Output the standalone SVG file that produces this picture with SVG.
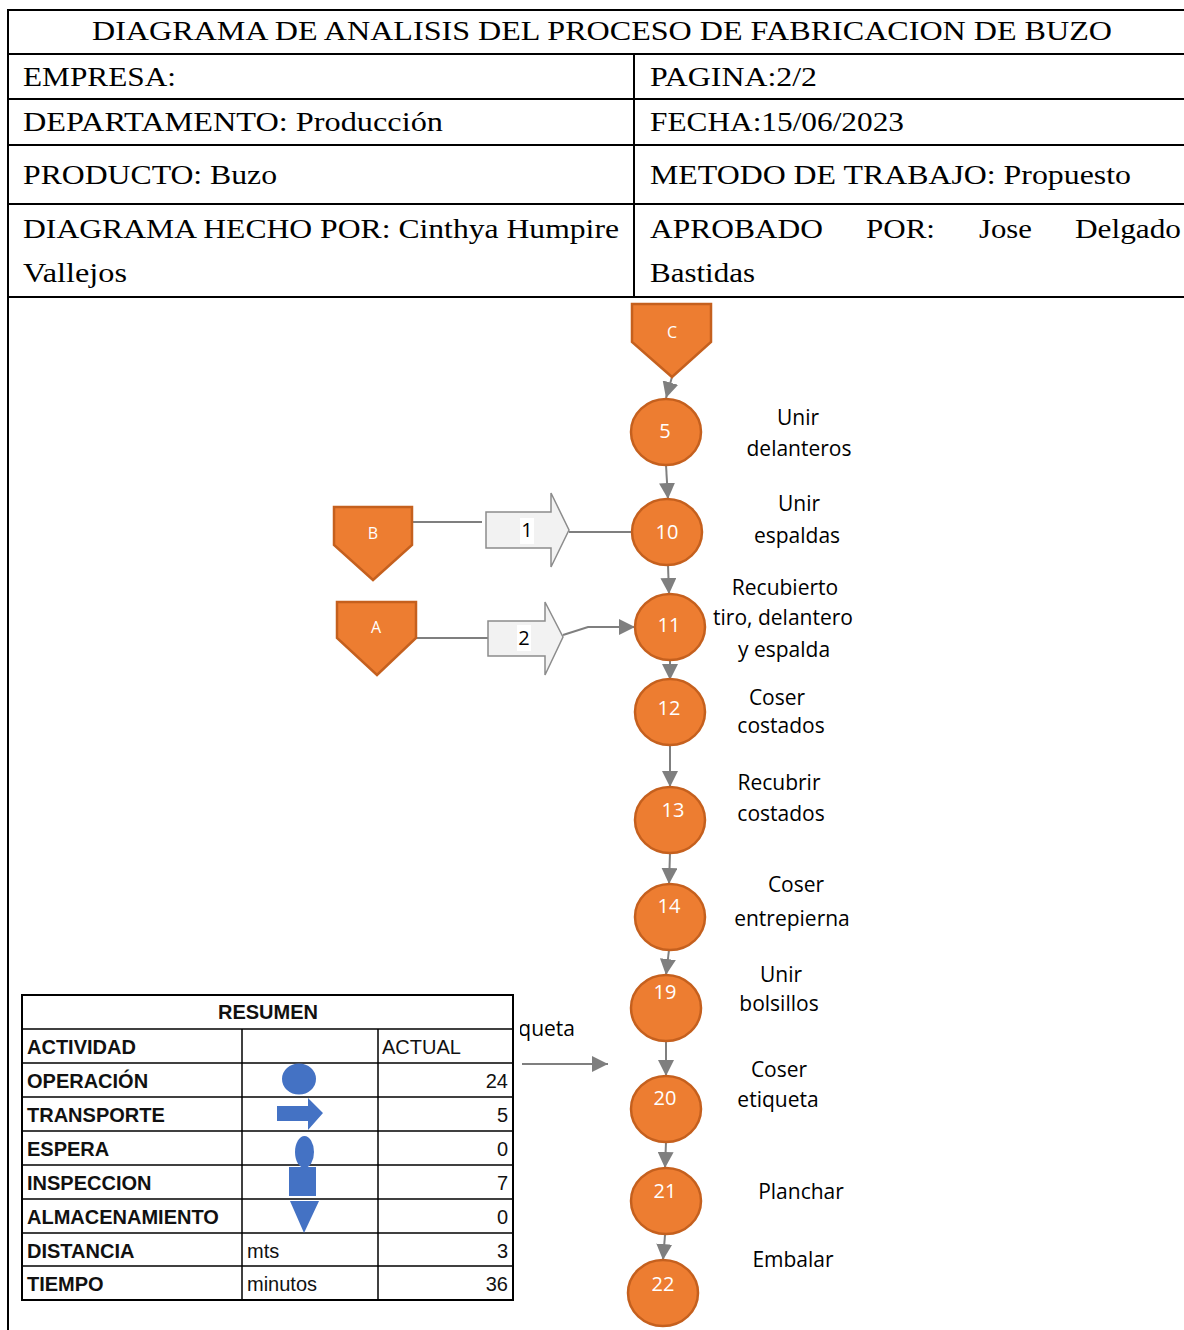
<svg xmlns="http://www.w3.org/2000/svg" width="1184" height="1330" viewBox="0 0 1184 1330">
  <style>
    .hdr { font-family: "Liberation Serif", "Times New Roman", serif; font-size: 27px; fill: #000; }
    .frame { stroke: #000; stroke-width: 2; fill: none; }
    .op { fill: #ED7D31; stroke: #C5601E; stroke-width: 2.5; }
    .num { font-family: "Open Sans", "Noto Sans", sans-serif; font-size: 20px; fill: #fff; text-anchor: middle; }
    .tag { font-family: "Open Sans", "Noto Sans", sans-serif; font-size: 16px; fill: #fff; text-anchor: middle; }
    .lbl { font-family: "Open Sans", "Noto Sans", sans-serif; font-size: 21px; fill: #000; text-anchor: middle; }
    .conn { stroke: #7F7F7F; stroke-width: 2; fill: none; }
    .blk { fill: #F2F2F2; stroke: #8C8C8C; stroke-width: 1.5; }
    .tb { stroke: #000; stroke-width: 1.5; fill: none; }
    .tt { font-family: "Liberation Sans", Arial, sans-serif; font-size: 20px; fill: #111; }
    .tb-b { font-weight: bold; }
    .icon { fill: #4472C4; }
  </style>
  <defs>
    <marker id="ah" viewBox="0 0 10 10" refX="10" refY="5" markerWidth="16" markerHeight="16" markerUnits="userSpaceOnUse" orient="auto">
      <path d="M0,0 L10,5 L0,10 Z" fill="#7F7F7F"/>
    </marker>
    <clipPath id="right-of-table">
      <rect x="520" y="1005" width="80" height="45"/>
    </clipPath>
  </defs>

  <rect x="0" y="0" width="1184" height="1330" fill="#fff"/>

  <!-- header form -->
  <g id="header">
    <line class="frame" x1="8" y1="10" x2="1184" y2="10"/>
    <line class="frame" x1="8" y1="54" x2="1184" y2="54"/>
    <line class="frame" x1="8" y1="99" x2="1184" y2="99"/>
    <line class="frame" x1="8" y1="145" x2="1184" y2="145"/>
    <line class="frame" x1="8" y1="204" x2="1184" y2="204"/>
    <line class="frame" x1="8" y1="297" x2="1184" y2="297"/>
    <line class="frame" x1="8" y1="9" x2="8" y2="1330"/>
    <line class="frame" x1="634" y1="54" x2="634" y2="297"/>

    <text class="hdr" x="92" y="40" textLength="1020" lengthAdjust="spacingAndGlyphs">DIAGRAMA DE ANALISIS DEL PROCESO DE FABRICACION DE BUZO</text>
    <text class="hdr" x="23" y="86" textLength="153" lengthAdjust="spacingAndGlyphs">EMPRESA:</text>
    <text class="hdr" x="650" y="86" textLength="167" lengthAdjust="spacingAndGlyphs">PAGINA:2/2</text>
    <text class="hdr" x="23" y="131" textLength="420" lengthAdjust="spacingAndGlyphs">DEPARTAMENTO: Producción</text>
    <text class="hdr" x="650" y="131" textLength="254" lengthAdjust="spacingAndGlyphs">FECHA:15/06/2023</text>
    <text class="hdr" x="23" y="184" textLength="254" lengthAdjust="spacingAndGlyphs">PRODUCTO: Buzo</text>
    <text class="hdr" x="650" y="184" textLength="481" lengthAdjust="spacingAndGlyphs">METODO DE TRABAJO: Propuesto</text>
    <text class="hdr" x="23" y="238" textLength="596" lengthAdjust="spacingAndGlyphs">DIAGRAMA HECHO POR: Cinthya Humpire</text>
    <text class="hdr" x="23" y="282" textLength="104" lengthAdjust="spacingAndGlyphs">Vallejos</text>
    <text class="hdr" x="650" y="238" textLength="173" lengthAdjust="spacingAndGlyphs">APROBADO</text>
    <text class="hdr" x="866" y="238" textLength="69" lengthAdjust="spacingAndGlyphs">POR:</text>
    <text class="hdr" x="979" y="238" textLength="53" lengthAdjust="spacingAndGlyphs">Jose</text>
    <text class="hdr" x="1075" y="238" textLength="106" lengthAdjust="spacingAndGlyphs">Delgado</text>
    <text class="hdr" x="650" y="282" textLength="105" lengthAdjust="spacingAndGlyphs">Bastidas</text>
  </g>

  <!-- connectors -->
  <g id="connectors">
    <line class="conn" x1="672" y1="377" x2="666" y2="398" marker-end="url(#ah)"/>
    <line class="conn" x1="666" y1="465" x2="668" y2="499" marker-end="url(#ah)"/>
    <line class="conn" x1="668" y1="565" x2="669" y2="594" marker-end="url(#ah)"/>
    <line class="conn" x1="670" y1="660" x2="670" y2="680" marker-end="url(#ah)"/>
    <line class="conn" x1="670" y1="745" x2="670" y2="787" marker-end="url(#ah)"/>
    <line class="conn" x1="670" y1="853" x2="669" y2="884" marker-end="url(#ah)"/>
    <line class="conn" x1="669" y1="950" x2="666" y2="975" marker-end="url(#ah)"/>
    <line class="conn" x1="666" y1="1041" x2="666" y2="1076" marker-end="url(#ah)"/>
    <line class="conn" x1="666" y1="1142" x2="665" y2="1168" marker-end="url(#ah)"/>
    <line class="conn" x1="665" y1="1235" x2="663" y2="1260" marker-end="url(#ah)"/>
    <!-- side inputs -->
    <line class="conn" x1="412" y1="522" x2="482" y2="522"/>
    <line class="conn" x1="569" y1="532" x2="633" y2="532"/>
    <line class="conn" x1="416" y1="638" x2="490" y2="638"/>
    <polyline class="conn" points="563,635 588,627 635,627" marker-end="url(#ah)"/>
    <line class="conn" x1="522" y1="1064" x2="608" y2="1064" marker-end="url(#ah)"/>
  </g>

  <!-- connector symbols -->
  <g id="node-C">
    <path class="op" d="M632,304 L711,304 L711,342 L672,377 L632,342 Z"/>
    <text class="tag" x="672" y="338">C</text>
  </g>
  <g id="node-B">
    <path class="op" d="M334,507 L412,507 L412,545 L373,580 L334,545 Z"/>
    <text class="tag" x="373" y="539">B</text>
  </g>
  <g id="node-A">
    <path class="op" d="M337,602 L416,602 L416,638 L377,675 L337,638 Z"/>
    <text class="tag" x="376" y="633">A</text>
  </g>

  <!-- transport blocks -->
  <g id="transport-1">
    <path class="blk" d="M486,512 L551,512 L551,493 L569,530 L551,567 L551,548 L486,548 Z"/>
    <rect x="520" y="518" width="14" height="26" fill="#fff"/>
    <text class="lbl" x="527" y="537" style="font-size:20px">1</text>
  </g>
  <g id="transport-2">
    <path class="blk" d="M488,621 L545,621 L545,602 L563,637 L545,675 L545,656 L488,656 Z"/>
    <rect x="517" y="625" width="14" height="26" fill="#fff"/>
    <text class="lbl" x="524" y="645" style="font-size:20px">2</text>
  </g>

  <!-- operations -->
  <g id="op-5">
    <ellipse class="op" cx="666" cy="432" rx="35" ry="33"/>
    <text class="num" x="665" y="438">5</text>
    <text class="lbl" x="798" y="425">Unir</text>
    <text class="lbl" x="799" y="456">delanteros</text>
  </g>
  <g id="op-10">
    <ellipse class="op" cx="667" cy="532" rx="35" ry="33"/>
    <text class="num" x="667" y="539">10</text>
    <text class="lbl" x="799" y="511">Unir</text>
    <text class="lbl" x="797" y="543">espaldas</text>
  </g>
  <g id="op-11">
    <ellipse class="op" cx="670" cy="627" rx="35" ry="33"/>
    <text class="num" x="669" y="632">11</text>
    <text class="lbl" x="785" y="595">Recubierto</text>
    <text class="lbl" x="783" y="625">tiro, delantero</text>
    <text class="lbl" x="784" y="657">y espalda</text>
  </g>
  <g id="op-12">
    <ellipse class="op" cx="670" cy="712" rx="35" ry="33"/>
    <text class="num" x="669" y="715">12</text>
    <text class="lbl" x="777" y="705">Coser</text>
    <text class="lbl" x="781" y="733">costados</text>
  </g>
  <g id="op-13">
    <ellipse class="op" cx="670" cy="820" rx="35" ry="33"/>
    <text class="num" x="673" y="817">13</text>
    <text class="lbl" x="779" y="790">Recubrir</text>
    <text class="lbl" x="781" y="821">costados</text>
  </g>
  <g id="op-14">
    <ellipse class="op" cx="670" cy="917" rx="35" ry="33"/>
    <text class="num" x="669" y="913">14</text>
    <text class="lbl" x="796" y="892">Coser</text>
    <text class="lbl" x="792" y="926">entrepierna</text>
  </g>
  <g id="op-19">
    <ellipse class="op" cx="666" cy="1008" rx="35" ry="33"/>
    <text class="num" x="665" y="999">19</text>
    <text class="lbl" x="781" y="982">Unir</text>
    <text class="lbl" x="779" y="1011">bolsillos</text>
  </g>
  <g id="op-20">
    <ellipse class="op" cx="666" cy="1109" rx="35" ry="33"/>
    <text class="num" x="665" y="1105">20</text>
    <text class="lbl" x="779" y="1077">Coser</text>
    <text class="lbl" x="778" y="1107">etiqueta</text>
  </g>
  <g id="op-21">
    <ellipse class="op" cx="666" cy="1201" rx="35" ry="33"/>
    <text class="num" x="665" y="1198">21</text>
    <text class="lbl" x="801" y="1199">Planchar</text>
  </g>
  <g id="op-22">
    <ellipse class="op" cx="663" cy="1293" rx="35" ry="33"/>
    <text class="num" x="663" y="1291">22</text>
    <text class="lbl" x="793" y="1267">Embalar</text>
  </g>

  <!-- stray label, its start hidden under the summary table -->
  <text class="lbl" x="575" y="1036" style="text-anchor:end" clip-path="url(#right-of-table)">etiqueta</text>

  <!-- summary table -->
  <g id="summary">
    <rect x="22" y="995" width="491" height="305" fill="#fff" stroke="#000" stroke-width="2"/>
    <line class="tb" x1="22" y1="1029" x2="513" y2="1029"/>
    <line class="tb" x1="22" y1="1063" x2="513" y2="1063"/>
    <line class="tb" x1="22" y1="1097" x2="513" y2="1097"/>
    <line class="tb" x1="22" y1="1131" x2="513" y2="1131"/>
    <line class="tb" x1="22" y1="1165" x2="513" y2="1165"/>
    <line class="tb" x1="22" y1="1199" x2="513" y2="1199"/>
    <line class="tb" x1="22" y1="1233" x2="513" y2="1233"/>
    <line class="tb" x1="22" y1="1266" x2="513" y2="1266"/>
    <line class="tb" x1="242" y1="1029" x2="242" y2="1300"/>
    <line class="tb" x1="378" y1="1029" x2="378" y2="1300"/>

    <text class="tt tb-b" x="268" y="1019" text-anchor="middle">RESUMEN</text>
    <text class="tt tb-b" x="27" y="1054">ACTIVIDAD</text>
    <text class="tt" x="382" y="1054">ACTUAL</text>
    <text class="tt tb-b" x="27" y="1088">OPERACIÓN</text>
    <text class="tt tb-b" x="27" y="1122">TRANSPORTE</text>
    <text class="tt tb-b" x="27" y="1156">ESPERA</text>
    <text class="tt tb-b" x="27" y="1190">INSPECCION</text>
    <text class="tt tb-b" x="27" y="1224">ALMACENAMIENTO</text>
    <text class="tt tb-b" x="27" y="1258">DISTANCIA</text>
    <text class="tt tb-b" x="27" y="1291">TIEMPO</text>
    <text class="tt" x="247" y="1258">mts</text>
    <text class="tt" x="247" y="1291">minutos</text>
    <text class="tt" x="508" y="1088" text-anchor="end">24</text>
    <text class="tt" x="508" y="1122" text-anchor="end">5</text>
    <text class="tt" x="508" y="1156" text-anchor="end">0</text>
    <text class="tt" x="508" y="1190" text-anchor="end">7</text>
    <text class="tt" x="508" y="1224" text-anchor="end">0</text>
    <text class="tt" x="508" y="1258" text-anchor="end">3</text>
    <text class="tt" x="508" y="1291" text-anchor="end">36</text>

    <!-- activity symbols -->
    <ellipse class="icon" cx="299" cy="1079" rx="17" ry="15.5"/>
    <path class="icon" d="M277,1106 L308,1106 L308,1098 L323,1113 L308,1130 L308,1121 L277,1121 Z"/>
    <ellipse class="icon" cx="304.5" cy="1152" rx="9.5" ry="16"/>
    <rect class="icon" x="289" y="1167" width="27" height="29"/>
    <path class="icon" d="M290,1201 L319,1201 L304,1233 Z"/>
  </g>
</svg>
